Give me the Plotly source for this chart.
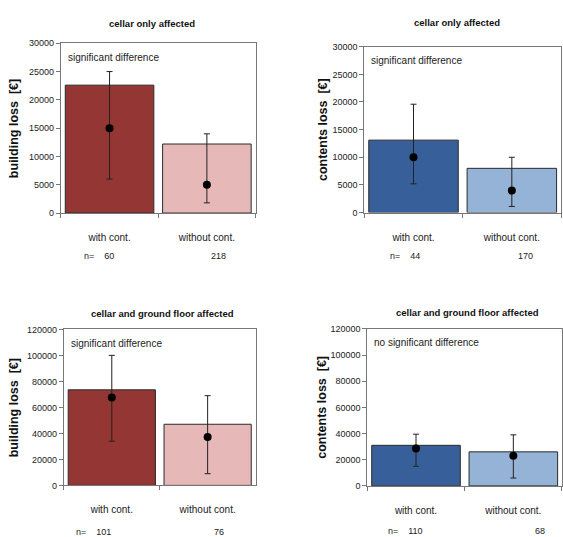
import plotly.graph_objects as go

W, H = 563, 537

categories = ["with cont.", "without cont."]
n_labels = [["60", "218"], ["44", "170"], ["101", "76"], ["110", "68"]]

titles = ["cellar only affected", "cellar only affected",
          "cellar and ground floor affected", "cellar and ground floor affected"]
ytitles = ["building loss  [€]", "contents loss  [€]", "building loss  [€]", "contents loss  [€]"]
notes = ["significant difference", "significant difference",
         "significant difference", "no significant difference"]

bar_values = [[22600, 12200], [13100, 8000], [73500, 47000], [31000, 26000]]
dot_values = [[15000, 5000], [10000, 4000], [67500, 37300], [28500, 23000]]
err_high = [[25000, 14000], [19600, 10000], [100000, 69000], [39500, 39000]]
err_low = [[6000, 1800], [5200, 1100], [34000, 9000], [15000, 6000]]
y_max = [30000, 30000, 120000, 120000]
y_dtick = [5000, 5000, 20000, 20000]

bar_colors = [["#943634", "#E6B9B8"], ["#37609A", "#95B3D7"],
              ["#943634", "#E6B9B8"], ["#37609A", "#95B3D7"]]

# plot areas in pixels: (left, right, top, bottom)
boxes = [(61, 256, 39, 212), (365, 562, 42.5, 211.5),
         (64, 256, 330.5, 489.5), (368, 563, 330, 490)]
n_shift = [(-11, 12), (-9, 14), (-18, 11), (-11, 27)]
n_gap = [44, 44, 47, 46]
title_x = [152, 458, 163, 468]
title_y = [19, 18, 314, 313]
ytitle_x = [14, 323, 14, 323]

fig = go.Figure()
annotations = []
FONT = "Liberation Sans, Arial, sans-serif"

for i in range(4):
    xa = "x" if i == 0 else f"x{i+1}"
    ya = "y" if i == 0 else f"y{i+1}"
    l, r, t, b = boxes[i]
    fig.add_trace(go.Bar(
        x=categories, y=bar_values[i], xaxis=xa, yaxis=ya,
        marker=dict(color=bar_colors[i], line=dict(color="#2a2a2a", width=1)),
        width=0.91, showlegend=False, hoverinfo="skip"))
    fig.add_trace(go.Scatter(
        x=categories, y=dot_values[i], xaxis=xa, yaxis=ya, mode="markers",
        marker=dict(color="black", size=8, symbol="circle"),
        error_y=dict(type="data", symmetric=False,
                     array=[h - d for h, d in zip(err_high[i], dot_values[i])],
                     arrayminus=[d - lo for d, lo in zip(dot_values[i], err_low[i])],
                     color="#222222", thickness=1, width=3),
        showlegend=False, hoverinfo="skip"))
    xkey = "xaxis" if i == 0 else f"xaxis{i+1}"
    ykey = "yaxis" if i == 0 else f"yaxis{i+1}"
    fig.update_layout(**{
        xkey: dict(domain=[l / W, r / W], anchor=ya, type="category",
                   range=[-0.5, 1.5], tickson="boundaries", ticks="outside",
                   ticklen=4, tickcolor="#777", showline=True, linecolor="#777",
                   linewidth=1, mirror=True, showgrid=False, zeroline=False,
                   tickfont=dict(family=FONT, size=10, color="#222"),
                   ticklabelstandoff=15),
        ykey: dict(domain=[1 - b / H, 1 - t / H], anchor=xa, range=[0, y_max[i]],
                   dtick=y_dtick[i], tickformat="d", ticks="outside", ticklen=4,
                   tickcolor="#777", showline=True, linecolor="#777", linewidth=1,
                   mirror=True, showgrid=False, zeroline=False,
                   tickfont=dict(family=FONT, size=9, color="#222")),
    })
    annotations.append(dict(text=f"<b>{titles[i]}</b>", xref="paper", yref="paper",
                            x=title_x[i] / W, y=1 - title_y[i] / H, showarrow=False,
                            xanchor="center", yanchor="middle",
                            font=dict(family=FONT, size=9.5, color="#111")))
    annotations.append(dict(text=f"<b>{ytitles[i]}</b>", xref="paper", yref="paper",
                            x=ytitle_x[i] / W, y=1 - ((t + b) / 2) / H, showarrow=False,
                            textangle=-90, xanchor="center", yanchor="middle",
                            font=dict(family=FONT, size=12.5, color="#111")))
    annotations.append(dict(text=notes[i], xref="paper", yref="paper",
                            x=(l + 5) / W, y=1 - (t + 14) / H, showarrow=False,
                            xanchor="left", yanchor="middle",
                            font=dict(family=FONT, size=10, color="#222")))
    for j in range(2):
        txt = ("n=    " + n_labels[i][j]) if j == 0 else n_labels[i][j]
        annotations.append(dict(text=txt, xref=xa, yref="paper",
                                x=categories[j], y=1 - (b + n_gap[i]) / H, showarrow=False,
                                xanchor="center", yanchor="middle", xshift=n_shift[i][j],
                                font=dict(family=FONT, size=9, color="#222")))

fig.update_layout(width=W, height=H, margin=dict(l=0, r=0, t=0, b=0),
                  paper_bgcolor="white", plot_bgcolor="white",
                  annotations=annotations, bargap=0.09)
fig.write_html("out.html", config={"displayModeBar": False},
               post_script="document.body.style.margin='0';document.body.style.overflow='hidden';")
